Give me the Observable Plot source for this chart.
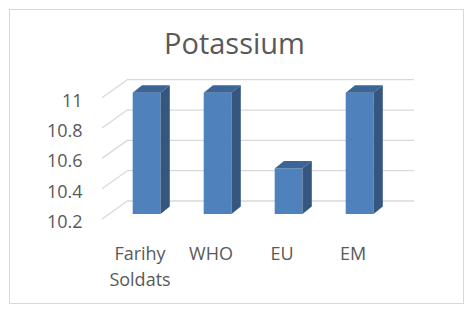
<!DOCTYPE html>
<html><head><meta charset="utf-8">
<script src="https://cdn.jsdelivr.net/npm/d3@7"></script>
<script src="https://cdn.jsdelivr.net/npm/@observablehq/plot@0.6"></script>
<style>
body{margin:0;background:#fff;}
#wrap{position:relative;width:469px;height:312px;font-family:"Open Sans",sans-serif;overflow:hidden;}
#frame{position:absolute;left:9px;top:9px;width:453px;height:293px;border:1px solid #d9d9d9;}
#title{position:absolute;left:0;width:469px;top:28px;line-height:29px;text-align:center;font-size:29px;color:#595959;}
#chart{position:absolute;left:0;top:0;}
</style></head>
<body>
<div id="wrap"><div id="frame"></div><div id="title">Potassium</div><div id="chart"></div></div>
<script>
const categories = ["Farihy Soldats", "WHO", "EU", "EM"];
const values = [11, 11, 10.5, 11];
const yTicks = [10.2, 10.4, 10.6, 10.8, 11];
const data = categories.map((c, i) => ({category: c, value: values[i]}));

const INSET_L = 28.7, INSET_R = 14.5, DX = 9.3, DY = -7.5;
const GRID = "#d9d9d9";

const diagonals = (index, scales, values_, dims) => {
  const g = d3.create("svg:g");
  for (const t of yTicks) {
    const y = scales.y(t);
    g.append("line")
      .attr("x1", dims.marginLeft - 1).attr("y1", y + 5)
      .attr("x2", dims.marginLeft + 25).attr("y2", y - 13.5)
      .attr("stroke", GRID).attr("stroke-width", 1.3);
  }
  return g.node();
};

const faces = (index, scales) => {
  const g = d3.create("svg:g");
  const step = scales.x(categories[1]) - scales.x(categories[0]);
  categories.forEach((c, i) => {
    const x0 = scales.x(c) + INSET_L, x1 = scales.x(c) + step - INSET_R;
    const yt = scales.y(values[i]), yb = scales.y(yTicks[0]);
    g.append("polygon")
      .attr("points", [[x0, yt], [x1, yt], [x1 + DX, yt + DY], [x0 + DX, yt + DY]].join(" "))
      .attr("fill", "#3c6597");
    g.append("polygon")
      .attr("points", [[x1, yt], [x1 + DX, yt + DY], [x1 + DX, yb + DY], [x1, yb]].join(" "))
      .attr("fill", "#34567f");
  });
  return g.node();
};

const plot = Plot.plot({
  width: 469, height: 312,
  marginLeft: 103, marginRight: 80, marginTop: 92.7, marginBottom: 98,
  x: {domain: categories, padding: 0, axis: null},
  y: {domain: [10.2, 11], axis: null},
  style: {fontFamily: "Open Sans", color: "#595959", background: "transparent", overflow: "visible"},
  marks: [
    Plot.ruleY(yTicks, {y: d => d, dx: 25, dy: -13.5, stroke: GRID, strokeWidth: 1.3}),
    diagonals,
    Plot.barY(data, {x: "category", y1: 10.2, y2: "value", fill: "#4f81bd", insetLeft: INSET_L, insetRight: INSET_R}),
    faces,
    Plot.axisY(yTicks, {tickSize: 0, tickPadding: 21, dy: 7.7, fontSize: 18, fill: "#595959", label: null, tickFormat: d => String(d)}),
    Plot.axisX({tickSize: 0, tickPadding: 27.7, fontSize: 18, fill: "#595959", lineHeight: 1.43, label: null, tickFormat: d => d.replace(" ", "\n")})
  ]
});
document.getElementById("chart").appendChild(plot);
</script>
</body></html>
